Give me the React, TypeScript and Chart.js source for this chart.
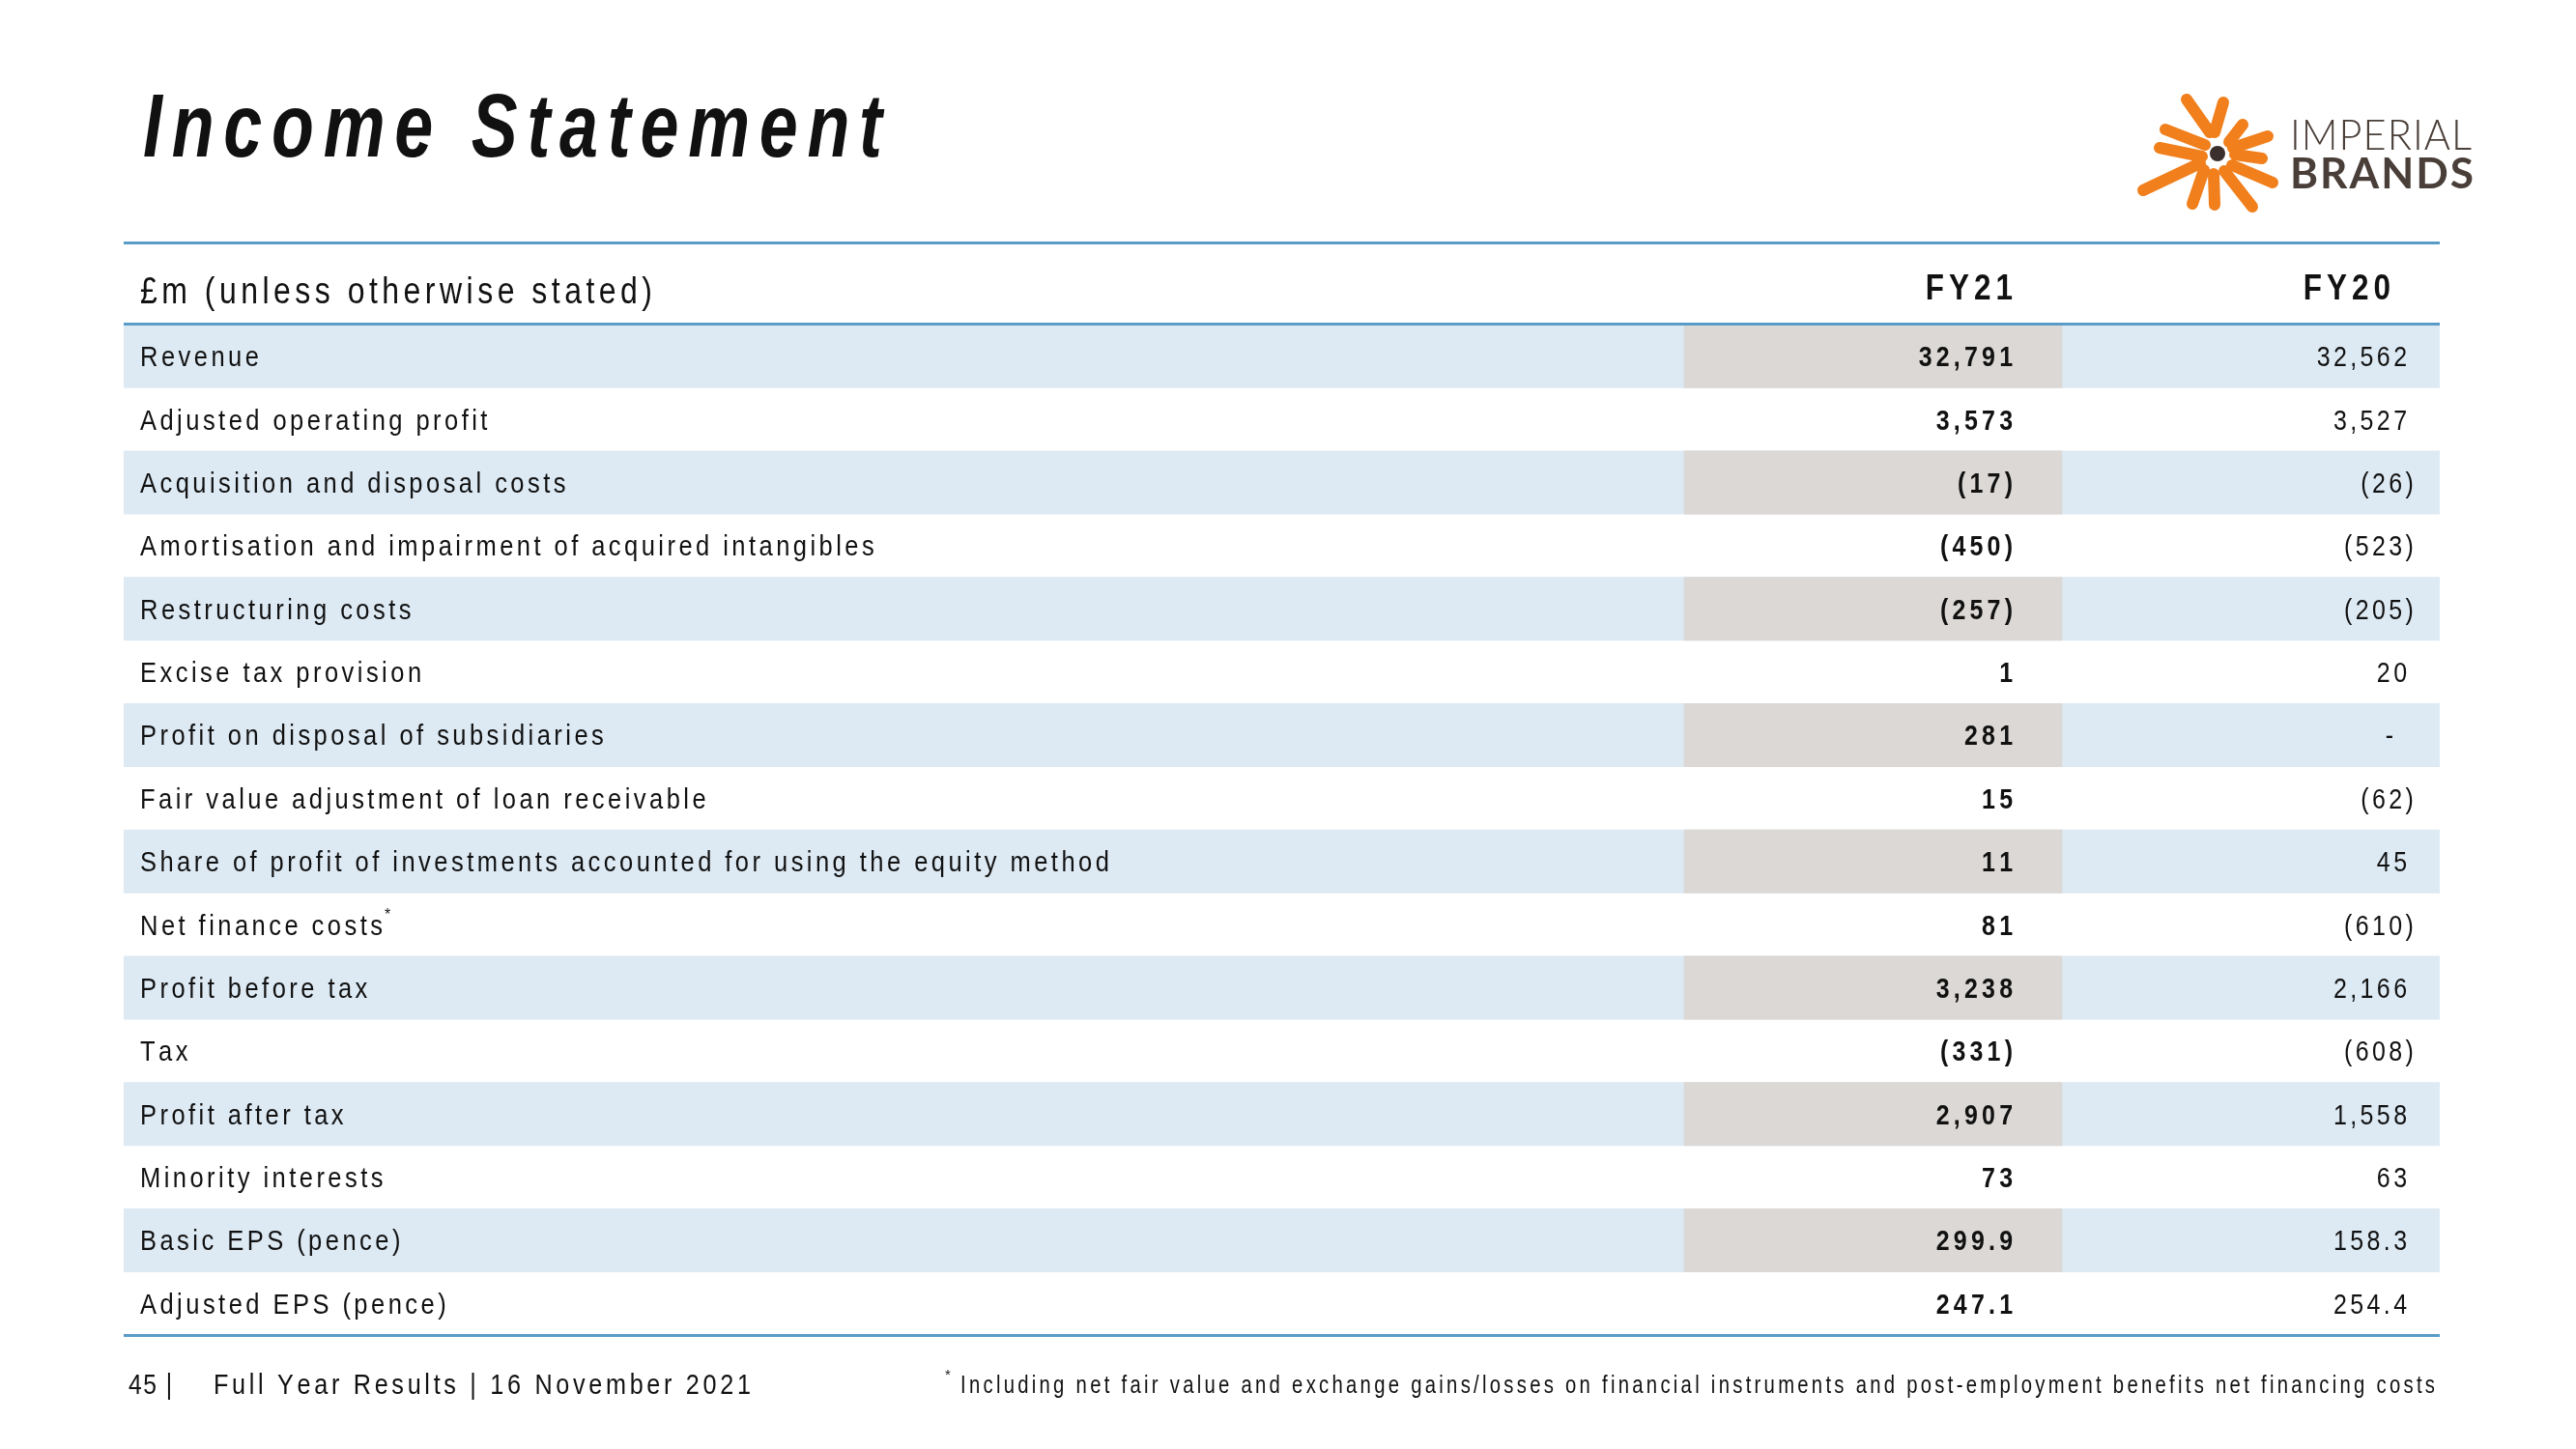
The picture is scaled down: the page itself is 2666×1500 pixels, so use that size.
import React, { useEffect, useRef } from "react";
import { Chart, registerables } from "chart.js";

Chart.register(...registerables);

// ---------- data ----------
const TITLE = "Income Statement";
const UNIT_LABEL = "£m (unless otherwise stated)";
const COLUMN_HEADERS = ["FY21", "FY20"];
const ROW_LABELS = [
  "Revenue",
  "Adjusted operating profit",
  "Acquisition and disposal costs",
  "Amortisation and impairment of acquired intangibles",
  "Restructuring costs",
  "Excise tax provision",
  "Profit on disposal of subsidiaries",
  "Fair value adjustment of loan receivable",
  "Share of profit of investments accounted for using the equity method",
  "Net finance costs*",
  "Profit before tax",
  "Tax",
  "Profit after tax",
  "Minority interests",
  "Basic EPS (pence)",
  "Adjusted EPS (pence)",
];
const FY21_VALUES = [32791, 3573, -17, -450, -257, 1, 281, 15, 11, 81, 3238, -331, 2907, 73, 299.9, 247.1];
const FY20_VALUES = [32562, 3527, -26, -523, -205, 20, null, -62, 45, -610, 2166, -608, 1558, 63, 158.3, 254.4];
const FOOTER_PAGE = "45 |";
const FOOTER_TEXT = "Full Year Results | 16 November 2021";
const FOOTNOTE = "Including net fair value and exchange gains/losses on financial instruments and post-employment benefits net financing costs";
const LOGO_TOP = "IMPERIAL";
const LOGO_BOTTOM = "BRANDS";

// ---------- layout / style ----------
const W = 2666;
const H = 1500;
const TABLE_LEFT = 128;
const TABLE_RIGHT = 2525;
const TABLE_W = TABLE_RIGHT - TABLE_LEFT;
const HEADER_TOP = 251;
const ROWS_TOP = 336;
const ROWS_BOTTOM = 1382;
const HL_START = 1743 - TABLE_LEFT;
const HL_END = 2134 - TABLE_LEFT;
const FY21_RIGHT = 2083 - TABLE_LEFT;
const FY20_RIGHT = 2491 - TABLE_LEFT;
const LABEL_X = 145 - TABLE_LEFT;

const STRIPE = "#ddeaf4";
const GREY = "#dbd8d5";
const BLUE = "#5a9cc8";
const ORANGE = "#f07f1c";
const BROWN = "#4a3e38";
const TEXT = "#111111";
const FONT = "'Liberation Sans', Arial, sans-serif";

function fmt(v: number | null): string {
  if (v === null || v === undefined) return "-";
  const d = Number.isInteger(v) ? 0 : 1;
  const s = Math.abs(v).toLocaleString("en-GB", { minimumFractionDigits: d, maximumFractionDigits: d });
  return v < 0 ? `(${s})` : s;
}

type Opt = { font: string; spacing?: number; sx?: number; align?: "left" | "right" | "center"; fitWidth?: number; fitScale?: boolean; color?: string };

function measure(ctx: CanvasRenderingContext2D, text: string, font: string, sx: number) {
  ctx.font = font;
  return [...text].map((ch) => ctx.measureText(ch).width * sx);
}

function drawText(ctx: CanvasRenderingContext2D, text: string, x: number, y: number, o: Opt) {
  let sx = o.sx ?? 1;
  let spacing = o.spacing ?? 0;
  const chars = [...text];
  let widths = measure(ctx, text, o.font, sx);
  let natural = widths.reduce((a, b) => a + b, 0);
  if (o.fitWidth) {
    if (o.fitScale) {
      const target = o.fitWidth - spacing * (chars.length - 1);
      const k = target / natural;
      sx *= k;
      widths = widths.map((w) => w * k);
      natural = target;
    } else {
      spacing = (o.fitWidth - natural) / Math.max(1, chars.length - 1);
    }
  }
  const total = natural + spacing * (chars.length - 1);
  let cx = o.align === "right" ? x - total : o.align === "center" ? x - total / 2 : x;
  ctx.fillStyle = o.color ?? TEXT;
  ctx.textBaseline = "alphabetic";
  ctx.textAlign = "left";
  chars.forEach((ch, i) => {
    ctx.save();
    ctx.translate(cx, y);
    ctx.scale(sx, 1);
    ctx.fillText(ch, 0, 0);
    ctx.restore();
    cx += widths[i] + spacing;
  });
  return total;
}

const BODY_SIZE = 29;
const BODY_SX = 0.88;
const BODY_SP = 3.45;

const tablePlugin = {
  id: "tableText",
  afterDatasetsDraw(chart: any) {
    const ctx: CanvasRenderingContext2D = chart.ctx;
    const xs = chart.scales.x;
    const ys = chart.scales.y;
    const area = chart.chartArea;
    ctx.save();

    // lines
    ctx.fillStyle = BLUE;
    ctx.fillRect(area.left, HEADER_TOP - 1, area.right - area.left, 3);
    ctx.fillRect(area.left, area.top - 2, area.right - area.left, 3);
    ctx.fillRect(area.left, area.bottom - 1, area.right - area.left, 3);

    // header
    const headerBase = (HEADER_TOP + area.top) / 2 + 20;
    drawText(ctx, UNIT_LABEL, xs.getPixelForValue(LABEL_X), headerBase, {
      font: `39px ${FONT}`, sx: 0.82, fitWidth: 530,
    });
    drawText(ctx, COLUMN_HEADERS[0], xs.getPixelForValue(FY21_RIGHT), headerBase - 4, {
      font: `bold 37px ${FONT}`, sx: 0.85, spacing: 5, align: "right",
    });
    drawText(ctx, COLUMN_HEADERS[1], xs.getPixelForValue(FY20_RIGHT) - 17, headerBase - 4, {
      font: `bold 37px ${FONT}`, sx: 0.85, spacing: 5, align: "right",
    });

    const bodyFont = `${BODY_SIZE}px ${FONT}`;
    const boldFont = `bold ${BODY_SIZE}px ${FONT}`;
    ROW_LABELS.forEach((label, i) => {
      const cy = ys.getPixelForValue(i);
      const base = cy + BODY_SIZE * 0.36;
      const star = label.endsWith("*");
      const txt = star ? label.slice(0, -1) : label;
      const w = drawText(ctx, txt, xs.getPixelForValue(LABEL_X), base, { font: bodyFont, sx: BODY_SX, spacing: BODY_SP });
      if (star) {
        drawText(ctx, "*", xs.getPixelForValue(LABEL_X) + w + 2, base - 16, { font: `16px ${FONT}` });
      }
      // FY21
      drawText(ctx, fmt(FY21_VALUES[i]), xs.getPixelForValue(FY21_RIGHT), base, {
        font: boldFont, sx: 0.86, spacing: 4.2, align: "right",
      });
      // FY20 (closing bracket hangs)
      const v = FY20_VALUES[i];
      const s = fmt(v);
      let right = xs.getPixelForValue(FY20_RIGHT);
      if (v === null) right -= 14;
      else if (s.endsWith(")")) {
        ctx.font = bodyFont;
        right += ctx.measureText(")").width * BODY_SX * 0.8;
      }
      drawText(ctx, s, right, base, { font: bodyFont, sx: 0.86, spacing: 3.4, align: "right" });
    });

    ctx.restore();
  },
  afterDraw(chart: any) {
    const ctx: CanvasRenderingContext2D = chart.ctx;
    ctx.save();
    // title
    drawText(ctx, TITLE, 148, 162, { font: `italic bold 92px ${FONT}`, sx: 0.78, fitWidth: 765 });

    // footer
    drawText(ctx, FOOTER_PAGE, 133, 1443, { font: `30px ${FONT}`, sx: 0.82, spacing: 1.5 });
    drawText(ctx, FOOTER_TEXT, 221, 1443, { font: `30px ${FONT}`, sx: 0.84, fitWidth: 556 });
    drawText(ctx, "*", 978, 1428, { font: `15px ${FONT}` });
    drawText(ctx, FOOTNOTE, 994, 1442, { font: `26px ${FONT}`, sx: 0.78, fitWidth: 1526 });

    // logo mark
    const cx = 2295, cy = 159;
    const strokes: number[][] = [
      [-32, -56, -8, -22],
      [6, -53, -3, -22],
      [-54, -25, -13, -9],
      [-60, -6, -16, 3],
      [-77, 38, -18, 10],
      [-26, 52, -14, 17],
      [-3, 53, -4, 21],
      [36, 55, 7, 18],
      [57, 30, 15, 12],
      [52, -18, 16, -6],
      [26, -30, 12, -12],
      [46, 5, 18, 1],
    ];
    ctx.strokeStyle = ORANGE;
    ctx.lineWidth = 12;
    ctx.lineCap = "round";
    strokes.forEach(([x1, y1, x2, y2]) => {
      ctx.beginPath();
      ctx.moveTo(cx + x1, cy + y1);
      ctx.lineTo(cx + x2, cy + y2);
      ctx.stroke();
    });
    ctx.fillStyle = "#3b2f2b";
    ctx.beginPath();
    ctx.arc(cx, cy, 8, 0, Math.PI * 2);
    ctx.fill();

    drawText(ctx, LOGO_TOP, 2370, 155, { font: `300 44px Lato, ${FONT}`, fitWidth: 188, fitScale: true, spacing: 1, color: BROWN });
    drawText(ctx, LOGO_BOTTOM, 2370, 195, { font: `bold 44px Lato, ${FONT}`, fitWidth: 190, fitScale: true, spacing: 2, color: BROWN });
    ctx.restore();
  },
};

export default function App() {
  const ref = useRef<HTMLCanvasElement | null>(null);
  useEffect(() => {
    if (!ref.current) return;
    const chart = new Chart(ref.current, {
      type: "bar",
      data: {
        labels: ROW_LABELS,
        datasets: [
          {
            label: "FY21 column",
            data: ROW_LABELS.map((_, i) => (i % 2 === 0 ? [HL_START, HL_END] : null)) as any,
            backgroundColor: GREY,
            grouped: false,
            order: 0,
          },
          {
            label: "Row stripe",
            data: ROW_LABELS.map((_, i) => (i % 2 === 0 ? [0, TABLE_W] : null)) as any,
            backgroundColor: STRIPE,
            grouped: false,
            order: 1,
          },
        ],
      },
      options: {
        indexAxis: "y",
        responsive: false,
        animation: false,
        events: [],
        layout: { padding: { left: TABLE_LEFT, right: W - TABLE_RIGHT, top: ROWS_TOP, bottom: H - ROWS_BOTTOM } },
        plugins: { legend: { display: false }, tooltip: { enabled: false }, title: { display: false } },
        datasets: { bar: { categoryPercentage: 1, barPercentage: 1, borderWidth: 0 } },
        scales: {
          x: { type: "linear", min: 0, max: TABLE_W, display: false },
          y: { type: "category", display: false },
        },
      } as any,
      plugins: [tablePlugin],
    });
    return () => chart.destroy();
  }, []);
  return (
    <div style={{ position: "absolute", left: 0, top: 0, width: W, height: H, background: "#fff" }}>
      <canvas ref={ref} width={W} height={H} style={{ display: "block" }} />
    </div>
  );
}
